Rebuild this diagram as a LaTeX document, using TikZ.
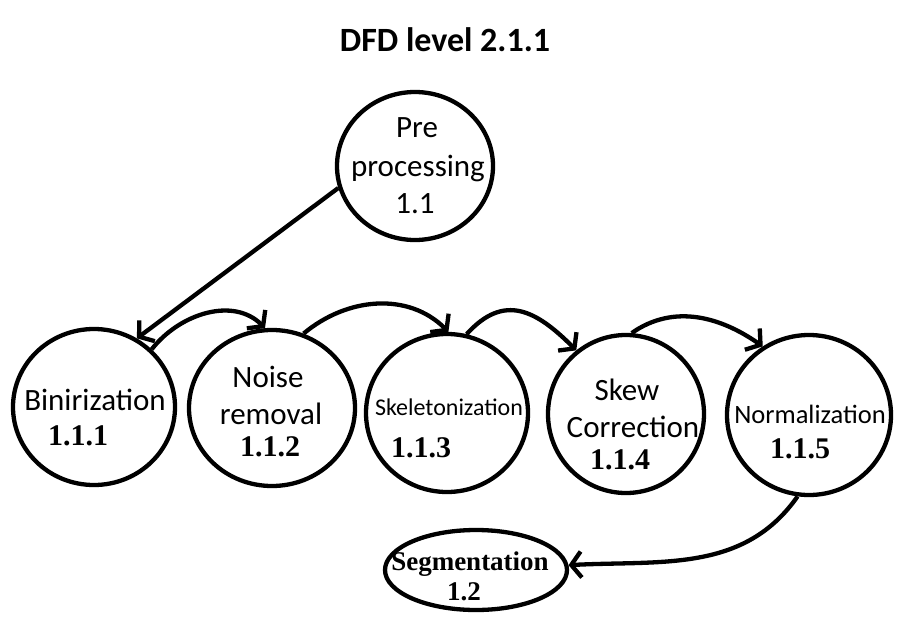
\documentclass[tikz,border=0pt]{standalone}
\usepackage{fontspec}
\setmainfont{Carlito}
\newfontfamily\tnr{Liberation Serif}
\usetikzlibrary{shapes.geometric,arrows.meta}
\tikzset{
  bubble/.style={ellipse, draw, line width=4.3pt, inner sep=0pt},
  lbl/.style={anchor=base, inner sep=0pt, font=\fontsize{31}{36}\selectfont},
  num/.style={anchor=base, inner sep=0pt, font=\tnr\bfseries\fontsize{30}{34}\selectfont},
  flow/.style={line width=4.3pt, -{Straight Barb[length=10pt,width=26pt]}}
}
\begin{document}
\begin{tikzpicture}[x=1pt,y=1pt]
\useasboundingbox[fill=white] (0,0) rectangle (897,-618);
% title
\node[anchor=base, inner sep=0pt, font=\bfseries\fontsize{34}{38}\selectfont] (title) at (445,-52) {DFD level 2.1.1};
% bubbles
\node[bubble, minimum width=156pt, minimum height=148pt] (pre) at (415,-166) {};
\node[bubble, minimum width=162pt, minimum height=156pt] (bin) at (94,-407) {};
\node[bubble, minimum width=166pt, minimum height=156pt] (noise) at (272,-408) {};
\node[bubble, minimum width=162pt, minimum height=158pt] (skel) at (447,-413) {};
\node[bubble, minimum width=156pt, minimum height=158pt] (skew) at (626,-414) {};
\node[bubble, minimum width=164pt, minimum height=160pt] (norm) at (809,-415) {};
\node[bubble, minimum width=182pt, minimum height=80pt] (seg) at (476,-570) {};
% texts
\node[lbl] (preA) at (417,-137) {Pre};
\node[lbl] (preB) at (418,-176) {processing};
\node[lbl] (preC) at (415,-213) {1.1};
\node[lbl] (binA) at (95,-410) {Binirization};
\node[num] (binN) at (78,-445) {1.1.1};
\node[lbl] (noiseA) at (268,-387) {Noise};
\node[lbl] (noiseB) at (271,-424) {removal};
\node[num] (noiseN) at (270,-456) {1.1.2};
\node[lbl, font=\fontsize{24}{28}\selectfont] (skelA) at (449,-415) {Skeletonization};
\node[num] (skelN) at (421,-457) {1.1.3};
\node[lbl] (skewA) at (627,-400) {Skew};
\node[lbl] (skewB) at (633,-437) {Correction};
\node[num] (skewN) at (620,-469) {1.1.4};
\node[lbl, font=\fontsize{26.5}{30}\selectfont] (normA) at (810,-423) {Normalization};
\node[num] (normN) at (800,-458) {1.1.5};
\node[num, font=\tnr\bfseries\fontsize{27}{30}\selectfont] (segA) at (470,-570) {Segmentation};
\node[num, font=\tnr\bfseries\fontsize{27}{30}\selectfont] (segN) at (464,-600) {1.2};
% flows
\draw[flow] (pre.196) -- (bin.58);
\draw[flow] (bin.45) to[out=52,in=135] (noise.95);
\draw[flow] (noise.67) to[out=40,in=135] (skel.89);
\draw[flow] (skel.76) to[out=48,in=135,looseness=1.3] (skew.128);
\draw[flow] (skew.86) to[out=35,in=145] (norm.124);
\draw[flow] (norm.262) to[out=-125,in=3] (seg.3);
\end{tikzpicture}
\end{document}
